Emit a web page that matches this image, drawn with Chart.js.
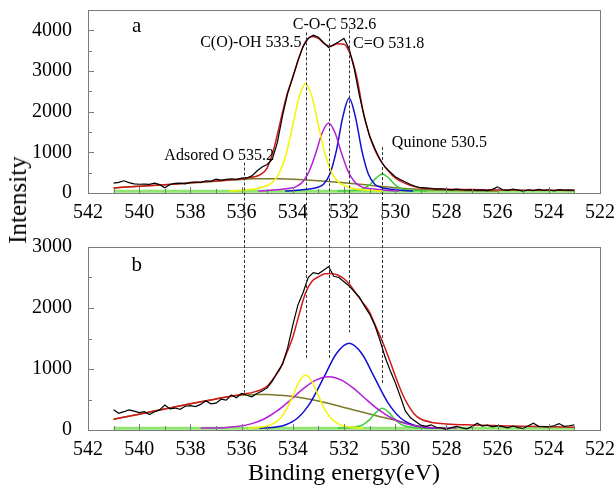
<!DOCTYPE html>
<html>
<head>
<meta charset="utf-8">
<script src="https://cdn.jsdelivr.net/npm/chart.js@4.4.0/dist/chart.umd.min.js"></script>
<style>
    body { margin: 0; background: #fff; }
    #wrap { position: relative; width: 616px; height: 488px; overflow: hidden; }
    #top-panel { position: absolute; left: 0; top: 0; }
    #bottom-panel { position: absolute; left: 0; top: 230px; }
    #y-title {
        position: absolute; left: 18px; top: 200px;
        transform: translate(-50%, -50%) rotate(-90deg);
        font: 25px 'Liberation Serif', serif; white-space: nowrap; color: #000;
    }
</style>
</head>
<body>
<div id="wrap">
    <canvas id="top-panel" width="616" height="230"></canvas>
    <canvas id="bottom-panel" width="616" height="258"></canvas>
    <div id="y-title">Intensity</div>
</div>
<script>
// tick labels
const energyTicks = [542, 540, 538, 536, 534, 532, 530, 528, 526, 524, 522];
const countTicksA = [0, 1000, 2000, 3000, 4000];
const countTicksB = [0, 1000, 2000, 3000];

// measured spectrum (same energy grid for both samples)
const rawEnergy = [541, 540.8, 540.6, 540.4, 540.2, 540, 539.8, 539.6, 539.4, 539.2, 539, 538.8, 538.6, 538.4, 538.2, 538,
    537.8, 537.6, 537.4, 537.2, 537, 536.8, 536.6, 536.4, 536.2, 536, 535.8, 535.6, 535.4, 535.2, 535, 534.8, 534.6, 534.4,
    534.2, 534, 533.8, 533.6, 533.4, 533.2, 533, 532.8, 532.6, 532.4, 532.2, 532, 531.8, 531.6, 531.4, 531.2, 531, 530.8,
    530.6, 530.4, 530.2, 530, 529.8, 529.6, 529.4, 529.2, 529, 528.8, 528.6, 528.4, 528.2, 528, 527.8, 527.6, 527.4, 527.2,
    527, 526.8, 526.6, 526.4, 526.2, 526, 525.8, 525.6, 525.4, 525.2, 525, 524.8, 524.6, 524.4, 524.2, 524, 523.8, 523.6,
    523.4, 523.2, 523];
const rawA = [245, 262, 300, 255, 225, 215, 220, 212, 240, 205, 130, 210, 235, 245, 225, 260, 270, 255, 300, 285, 340, 315,
    335, 350, 330, 365, 370, 420, 540, 640, 700, 830, 1250, 1900, 2450, 2850, 3250, 3600, 3800, 3880, 3830, 3700, 3580, 3650,
    3720, 3800, 3550, 3050, 2400, 1850, 1400, 1100, 830, 640, 520, 400, 330, 270, 210, 160, 130, 125, 110, 95, 105, 90, 75,
    95, 80, 70, 85, 65, 75, 60, 90, 150, 80, 65, 95, 70, 45, 80, 60, 90, 65, 80, 55, 85, 70, 75, 65];
const rawB = [330, 275, 300, 330, 310, 285, 300, 255, 300, 330, 410, 345, 360, 340, 390, 400, 385, 420, 480, 430, 440, 505,
    490, 575, 530, 600, 570, 545, 600, 640, 690, 800, 950, 1080, 1350, 1720, 2050, 2250, 2500, 2580, 2560, 2620, 2680, 2520,
    2500, 2430, 2360, 2270, 2180, 2030, 1900, 1720, 1480, 1200, 980, 780, 550, 310, 200, 140, 80, 60, 85, 45, 30, 10, 40, 60,
    35, 20, 55, 110, 65, 80, 50, 70, 55, 35, 65, 40, 25, 70, 110, 60, 55, 50, 70, 105, 60, 70, 85];

// fitted envelope
const fitEnergyA = [541, 540, 539, 538, 537, 536.5, 536, 535.75, 535.5, 535.25, 535, 534.75, 534.5, 534.25, 534, 533.75,
    533.5, 533.25, 533, 532.75, 532.5, 532.25, 532, 531.75, 531.5, 531.25, 531, 530.75, 530.5, 530.25, 530, 529.75, 529.5,
    529.25, 529, 528.5, 528, 527, 526, 525, 524, 523];
const fitA = [125, 165, 205, 250, 295, 320, 350, 370, 400, 460, 620, 1060, 1720, 2370, 2850, 3350, 3720, 3850, 3800, 3660,
    3610, 3670, 3660, 3400, 2850, 2000, 1400, 1000, 730, 530, 370, 280, 210, 160, 125, 105, 95, 85, 75, 70, 66, 64];
const fitEnergyB = [541, 540, 539, 538, 537, 536.5, 536, 535.5, 535, 534.75, 534.5, 534.25, 534, 533.75, 533.5, 533.25, 533,
    532.75, 532.5, 532.25, 532, 531.75, 531.5, 531.25, 531, 530.75, 530.5, 530.25, 530, 529.75, 529.5, 529.25, 529, 528.5,
    528, 527, 526, 525, 524, 523];
const fitB = [175, 260, 345, 430, 510, 550, 585, 625, 720, 850, 1000, 1250, 1520, 1900, 2250, 2440, 2510, 2560, 2565, 2540,
    2480, 2370, 2220, 2080, 1930, 1690, 1450, 1180, 890, 620, 410, 260, 180, 120, 100, 82, 70, 60, 52, 45];

// components, panel a
const cohEnergyA = [536.5, 536.25, 536, 535.75, 535.5, 535.25, 535, 534.75, 534.5, 534.25, 534, 533.75, 533.5, 533.25, 533,
    532.75, 532.5, 532.25, 532, 531.75, 531.5, 531.25, 531, 530.75, 530.5];
const cohA = [50, 55, 65, 80, 100, 137, 185, 288, 530, 985, 1660, 2363, 2690, 2363, 1660, 985, 530, 288, 185, 137, 100, 80,
    65, 55, 50];
const cocEnergyA = [535.35, 535.1, 534.85, 534.6, 534.35, 534.1, 533.85, 533.6, 533.35, 533.1, 532.85, 532.6, 532.35, 532.1,
    531.85, 531.6, 531.35, 531.1, 530.85, 530.6, 530.35, 530.1, 529.85];
const cocA = [50, 55, 65, 80, 97, 117, 164, 284, 547, 984, 1480, 1720, 1480, 984, 547, 284, 164, 117, 97, 80, 65, 55, 50];
const coEnergyA = [534.3, 534.05, 533.8, 533.55, 533.3, 533.05, 532.8, 532.55, 532.3, 532.05, 531.8, 531.55, 531.3, 531.05,
    530.8, 530.55, 530.3, 530.05, 529.8, 529.55, 529.3];
const coA = [50, 57, 68, 85, 107, 137, 216, 465, 1035, 1860, 2330, 1860, 1035, 465, 216, 137, 107, 85, 68, 57, 50];
const quinoneEnergyA = [532.25, 532, 531.75, 531.5, 531.25, 531, 530.75, 530.5, 530.25, 530, 529.75, 529.5, 529.25, 529,
    528.75];
const quinoneA = [50, 55, 62, 71, 103, 199, 365, 470, 365, 199, 103, 71, 62, 55, 50];
const adsEnergyA = [541, 540, 539, 538, 537, 536, 535.5, 535, 534.5, 534, 533.5, 533, 532.5, 532, 531.5, 531, 530.5, 530,
    529.5, 529, 528.5, 528, 527, 526];
const adsA = [125, 165, 205, 245, 290, 335, 348, 352, 348, 338, 322, 302, 278, 252, 222, 190, 158, 128, 105, 88, 75, 65, 55,
    50];

// components, panel b
const cohEnergyB = [535.75, 535.5, 535.25, 535, 534.75, 534.5, 534.25, 534, 533.75, 533.5, 533.25, 533, 532.75, 532.5,
    532.25, 532, 531.75, 531.5, 531.25];
const cohB = [30, 38, 48, 65, 108, 188, 338, 561, 792, 900, 792, 561, 338, 188, 108, 65, 48, 38, 30];
const cocEnergyB = [537.6, 537.1, 536.6, 536.1, 535.6, 535.1, 534.6, 534.1, 533.6, 533.1, 532.6, 532.1, 531.6, 531.1, 530.6,
    530.1, 529.6, 529.1, 528.6, 528.1, 527.6];
const cocB = [30, 33, 41, 60, 104, 185, 316, 489, 674, 818, 874, 818, 674, 489, 316, 185, 104, 60, 41, 33, 30];
const coEnergyB = [535.3, 534.8, 534.3, 533.8, 533.3, 532.8, 532.3, 531.8, 531.3, 530.8, 530.3, 529.8, 529.3, 528.8, 528.3];
const coB = [30, 42, 83, 201, 458, 853, 1250, 1421, 1250, 853, 458, 201, 83, 42, 30];
const quinoneEnergyB = [532.25, 532, 531.75, 531.5, 531.25, 531, 530.75, 530.5, 530.25, 530, 529.75, 529.5, 529.25, 529,
    528.75];
const quinoneB = [30, 35, 42, 54, 89, 170, 288, 355, 288, 170, 89, 54, 42, 35, 30];
const adsEnergyB = [541, 540, 539, 538, 537, 536.5, 536, 535.5, 535, 534.5, 534, 533.5, 533, 532.5, 532, 531.5, 531, 530.5,
    530, 529.5, 529, 528.5];
const adsB = [175, 260, 345, 430, 510, 545, 570, 580, 582, 570, 548, 515, 475, 425, 370, 315, 262, 208, 160, 105, 50, 30];

// baselines
const baseEnergy = [541, 523];
const baseA = [45, 45];
const baseB = [30, 30];

// dashed peak markers: energy, where they start in panel a, where they end in panel b
const markerEnergy = [535.9, 533.5, 532.6, 531.8, 530.5];
const markerTopA = [750, 3950, 4050, 4000, 1130];
const markerEndB = [610, 1180, 1180, 1600, 740];

window.onload = () => {
    const serif = "'Liberation Serif', 'Times New Roman', serif";

    function series(energies, counts, color, width, smooth) {
        return {
            data: energies.map((e, i) => ({x: e, y: counts[i]})),
            borderColor: color,
            borderWidth: width,
            pointRadius: 0,
            showLine: true,
            fill: false,
            tension: 0,
            cubicInterpolationMode: smooth ? 'monotone' : 'default'
        };
    }

    // inward ticks and the grey frame
    let framePlugin = {
        id: 'frame',
        afterDraw(chart) {
            const {ctx, chartArea: a, scales: {x, y}} = chart;
            ctx.save();
            ctx.strokeStyle = '#7a7a7a';
            ctx.lineWidth = 1;
            ctx.beginPath();
            for (let e = 522; e <= 542; e += 1) {
                const px = Math.round(x.getPixelForValue(e)) + 0.5;
                const len = e % 2 === 0 ? 6 : 4;
                ctx.moveTo(px, a.bottom);
                ctx.lineTo(px, a.bottom - len);
            }
            for (let v = 0; v <= y.max; v += 500) {
                const py = Math.round(y.getPixelForValue(v)) + 0.5;
                const len = v % 1000 === 0 ? 6 : 4;
                ctx.moveTo(a.left, py);
                ctx.lineTo(a.left + len, py);
            }
            ctx.stroke();
            ctx.strokeRect(Math.round(a.left) + 0.5, Math.round(a.top) + 0.5,
                Math.round(a.right - a.left), Math.round(a.bottom - a.top));
            ctx.restore();
        }
    };

    function markerPlugin(ends, downward) {
        return {
            id: 'markers',
            afterDraw(chart) {
                const {ctx, scales: {x, y}} = chart;
                ctx.save();
                ctx.strokeStyle = '#333';
                ctx.lineWidth = 1;
                ctx.setLineDash([3, 2]);
                markerEnergy.forEach((e, i) => {
                    const px = Math.round(x.getPixelForValue(e)) + 0.5;
                    const py = y.getPixelForValue(ends[i]);
                    ctx.beginPath();
                    if (downward) {
                        ctx.moveTo(px, py);
                        ctx.lineTo(px, chart.height);
                    } else {
                        ctx.moveTo(px, 0);
                        ctx.lineTo(px, py);
                    }
                    ctx.stroke();
                });
                ctx.restore();
            }
        };
    }

    function labelPlugin(labels) {
        return {
            id: 'labels',
            afterDraw(chart) {
                const {ctx, scales: {x, y}} = chart;
                ctx.save();
                ctx.fillStyle = '#000';
                ctx.textBaseline = 'middle';
                labels.forEach(l => {
                    ctx.font = (l.size || 16) + 'px ' + serif;
                    ctx.textAlign = l.align;
                    ctx.fillText(l.text, x.getPixelForValue(l.e), y.getPixelForValue(l.v));
                });
                ctx.restore();
            }
        };
    }

    function panelConfig(datasets, yMax, yTicks, padTop, xBoxHeight, withTitle, plugins) {
        return {
            type: 'scatter',
            data: {datasets: datasets},
            options: {
                responsive: false,
                animation: false,
                layout: {padding: {top: padTop, right: 16, left: 0, bottom: 0}},
                plugins: {legend: {display: false}, tooltip: {enabled: false}},
                scales: {
                    x: {
                        type: 'linear', reverse: true, min: 522, max: 542,
                        grid: {display: false}, border: {display: false},
                        ticks: {
                            color: '#000', padding: 0, maxRotation: 0, autoSkip: false,
                            font: {family: serif, size: 20},
                            callback: v => String(v)
                        },
                        afterBuildTicks: s => { s.ticks = energyTicks.map(v => ({value: v})); },
                        title: {
                            display: withTitle, text: 'Binding energy(eV)', color: '#000',
                            font: {family: serif, size: 24}, padding: {top: 0, bottom: 0}
                        },
                        afterFit: s => {
                            s.height = xBoxHeight;
                            s.paddingLeft = 0;
                            s.paddingRight = 0;
                        }
                    },
                    y: {
                        min: 0, max: yMax,
                        grid: {display: false}, border: {display: false},
                        ticks: {
                            color: '#000', padding: 8, autoSkip: false,
                            font: {family: serif, size: 20},
                            callback: v => String(v)
                        },
                        afterBuildTicks: s => { s.ticks = yTicks.map(v => ({value: v})); },
                        afterFit: s => {
                            s.width = 88;
                            s.paddingTop = 0;
                            s.paddingBottom = 0;
                        }
                    }
                }
            },
            plugins: [framePlugin].concat(plugins)
        };
    }

    let datasetsA = [
        series(rawEnergy, rawA, '#000000', 1.2, false),
        series(fitEnergyA, fitA, '#d01818', 1.5, true),
        series(cohEnergyA, cohA, '#f5f500', 1.5, true),
        series(cocEnergyA, cocA, '#b41ed8', 1.5, true),
        series(coEnergyA, coA, '#1010d0', 1.5, true),
        series(quinoneEnergyA, quinoneA, '#3ccf3c', 1.5, true),
        series(adsEnergyA, adsA, '#7c7a28', 1.5, true),
        series(baseEnergy, baseA, '#8ee66e', 3, false)
    ];

    let datasetsB = [
        series(rawEnergy, rawB, '#000000', 1.2, false),
        series(fitEnergyB, fitB, '#d01818', 1.5, true),
        series(cohEnergyB, cohB, '#f5f500', 1.5, true),
        series(cocEnergyB, cocB, '#b41ed8', 1.5, true),
        series(coEnergyB, coB, '#1010d0', 1.5, true),
        series(quinoneEnergyB, quinoneB, '#3ccf3c', 1.5, true),
        series(adsEnergyB, adsB, '#7c7a28', 1.5, true),
        series(baseEnergy, baseB, '#8ee66e', 3, false)
    ];

    let labelsA = [
        {text: 'a', e: 540.1, v: 4090, align: 'center', size: 21},
        {text: 'C(O)-OH 533.5', e: 533.66, v: 3700, align: 'right'},
        {text: 'C-O-C 532.6', e: 532.37, v: 4135, align: 'center'},
        {text: 'C=O 531.8', e: 531.65, v: 3668, align: 'left'},
        {text: 'Quinone 530.5', e: 530.13, v: 1243, align: 'left'},
        {text: 'Adsored O 535.2', e: 534.73, v: 916, align: 'right'}
    ];
    let labelsB = [
        {text: 'b', e: 540.1, v: 2705, align: 'center', size: 21}
    ];

    new Chart(document.getElementById('top-panel'),
        panelConfig(datasetsA, 4500, countTicksA, 10, 37, false,
            [markerPlugin(markerTopA, true), labelPlugin(labelsA)]));
    new Chart(document.getElementById('bottom-panel'),
        panelConfig(datasetsB, 3000, countTicksB, 17, 58, true,
            [markerPlugin(markerEndB, false), labelPlugin(labelsB)]));
}
</script>
</body>
</html>
